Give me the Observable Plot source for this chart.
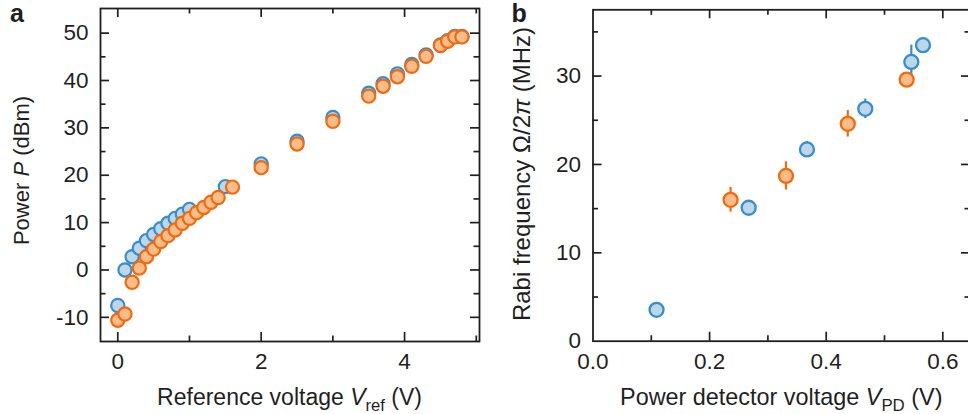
<!DOCTYPE html>
<html>
<head>
<meta charset="utf-8">
<script src="https://cdn.jsdelivr.net/npm/d3@7"></script>
<script src="https://cdn.jsdelivr.net/npm/@observablehq/plot@0.6"></script>
<style>
  html, body { margin: 0; padding: 0; background: #fff; overflow: hidden; }
  #figure { position: relative; width: 968px; height: 414px; overflow: hidden; background: #fff; }
  #figure svg { position: absolute; top: 0; }
</style>
</head>
<body>
<div id="figure"></div>
<script>
// ---- Panel a: output power vs. reference voltage (two channels) ----
const refVoltageBlue = [0, 0.1, 0.2, 0.3, 0.4, 0.5, 0.6, 0.7, 0.8, 0.9, 1.0, 1.5, 2.0, 2.5, 3.0, 3.5, 3.7, 3.9, 4.1, 4.3, 4.5, 4.6, 4.7, 4.8];
const powerBlue      = [-7.5, 0.0, 2.8, 4.6, 6.2, 7.5, 8.7, 9.85, 10.9, 11.8, 12.8, 17.6, 22.4, 27.2, 32.2, 37.3, 39.3, 41.4, 43.4, 45.4, 47.5, 48.4, 49.3, 49.3];

const refVoltageOrange = [0, 0.1, 0.2, 0.3, 0.4, 0.5, 0.6, 0.7, 0.8, 0.9, 1.0, 1.1, 1.2, 1.3, 1.4, 1.6, 2.0, 2.5, 3.0, 3.5, 3.7, 3.9, 4.1, 4.3, 4.5, 4.6, 4.7, 4.8];
const powerOrange      = [-10.6, -9.3, -2.6, 0.4, 2.8, 4.4, 6.0, 7.25, 8.45, 9.85, 10.9, 12.1, 13.2, 14.3, 15.3, 17.5, 21.6, 26.6, 31.4, 36.7, 38.8, 40.8, 43.0, 45.1, 47.4, 48.3, 49.2, 49.2];

// ---- Panel b: Rabi frequency vs. power detector voltage ----
const vpdBlue       = [0.109, 0.267, 0.367, 0.467, 0.546, 0.566];
const rabiBlue      = [3.55, 15.1, 21.7, 26.3, 31.6, 33.5];
const rabiErrBlue   = [0.3, 0.4, 0.9, 1.1, 1.9, 0.3];

const vpdOrange     = [0.236, 0.331, 0.437, 0.538];
const rabiOrange    = [16.0, 18.7, 24.6, 29.6];
const rabiErrOrange = [1.4, 1.6, 1.5, 0.5];

// ---- Tick positions ----
const aTicksX      = [0, 2, 4];
const aMinorTicksX = [1, 3, 5];
const aTicksY      = [-10, 0, 10, 20, 30, 40, 50];
const aMinorTicksY = [-5, 5, 15, 25, 35, 45];

const bTicksX      = [0.0, 0.2, 0.4, 0.6];
const bMinorTicksX = [0.1, 0.3, 0.5];
const bTicksY      = [0, 10, 20, 30];
const bMinorTicksY = [5, 15, 25, 35];

// ---- Styling ----
const font = '"Liberation Sans", Arial, Helvetica, sans-serif';
const ink = "#1f1f1f";
const blue   = {stroke: "#3a8dcc", fill: "#bcd7ea"};
const orange = {stroke: "#f26a10", fill: "#fdbd8b"};
const majorLen = 9, minorLen = 5.5;

const zip = (xs, ys, es) => xs.map((x, i) => ({x, y: ys[i], e: es ? es[i] : 0}));

// Inward-pointing ticks on all four sides of the frame
function frameTicks(xMajor, xMinor, yMajor, yMinor, fw, fh) {
  const st = {stroke: ink, strokeWidth: 1.7};
  const marks = [];
  for (const [vals, len] of [[xMajor, majorLen], [xMinor, minorLen]]) {
    marks.push(Plot.tickX(vals, {x: d => d, insetTop: fh - len, ...st}));
    marks.push(Plot.tickX(vals, {x: d => d, insetBottom: fh - len, ...st}));
  }
  for (const [vals, len] of [[yMajor, majorLen], [yMinor, minorLen]]) {
    marks.push(Plot.tickY(vals, {y: d => d, insetRight: fw - len, ...st}));
    marks.push(Plot.tickY(vals, {y: d => d, insetLeft: fw - len, ...st}));
  }
  return marks;
}

function addText(svg, {x, y, rotate = 0, size, weight = "normal", anchor = "middle", parts}) {
  const t = d3.select(svg).append("text")
    .attr("transform", `translate(${x},${y}) rotate(${rotate})`)
    .attr("text-anchor", anchor)
    .attr("font-family", font)
    .attr("font-size", size)
    .attr("font-weight", weight)
    .attr("fill", ink);
  let shifted = false;
  for (const p of parts) {
    const s = t.append("tspan").text(p.text);
    if (p.italic) s.attr("font-style", "italic");
    if (p.sub) { s.attr("font-size", size * 0.72).attr("dy", size * 0.24); shifted = true; }
    else if (shifted) { s.attr("dy", -size * 0.24); shifted = false; }
  }
}

const tickFont = 22.5;
const axisStyle = {fontFamily: font, fontSize: tickFont + "px", color: ink, background: "white", overflow: "visible"};

// ---- Panel a ----
const aW = 490, aH = 414, aM = {left: 100, right: 11, top: 8, bottom: 73};
const aFW = aW - aM.left - aM.right, aFH = aH - aM.top - aM.bottom;

const plotA = Plot.plot({
  width: aW, height: aH,
  marginLeft: aM.left, marginRight: aM.right, marginTop: aM.top, marginBottom: aM.bottom,
  style: axisStyle,
  x: {domain: [-0.241, 5.045]},
  y: {domain: [-15.1, 55.2]},
  marks: [
    Plot.axisX(aTicksX, {tickSize: 0, tickPadding: 12, tickFormat: d => String(d), fill: ink, label: null}),
    Plot.axisY(aTicksY, {tickSize: 0, tickPadding: 12, tickFormat: d => String(d), fill: ink, label: null}),
    ...frameTicks(aTicksX, aMinorTicksX, aTicksY, aMinorTicksY, aFW, aFH),
    Plot.dot(zip(refVoltageBlue, powerBlue), {x: "x", y: "y", r: 6.6, strokeWidth: 2.2, ...blue}),
    Plot.dot(zip(refVoltageOrange, powerOrange), {x: "x", y: "y", r: 6.6, strokeWidth: 2.2, ...orange}),
    Plot.frame({stroke: ink, strokeWidth: 1.8})
  ]
});
plotA.style.left = "0px";
document.getElementById("figure").appendChild(plotA);

addText(plotA, {x: 10, y: 21.7, size: 25, weight: "bold", anchor: "start", parts: [{text: "a"}]});
addText(plotA, {x: 29, y: 170.5, rotate: -90, size: 22, parts: [
  {text: "Power "}, {text: "P", italic: true}, {text: " (dBm)"}
]});
addText(plotA, {x: aM.left + aFW / 2, y: 405, size: 23, parts: [
  {text: "Reference voltage "}, {text: "V", italic: true}, {text: "ref", sub: true}, {text: " (V)"}
]});

// ---- Panel b ----
const bX = 490, bW = 482, bH = 414, bM = {left: 102.5, right: 2, top: 9.3, bottom: 73.3};
const bFW = bW - bM.left - bM.right, bFH = bH - bM.top - bM.bottom;

const blueB = zip(vpdBlue, rabiBlue, rabiErrBlue);
const orangeB = zip(vpdOrange, rabiOrange, rabiErrOrange);

const plotB = Plot.plot({
  width: bW, height: bH,
  marginLeft: bM.left, marginRight: bM.right, marginTop: bM.top, marginBottom: bM.bottom,
  style: axisStyle,
  x: {domain: [0, 0.6475]},
  y: {domain: [0, 37.5]},
  marks: [
    Plot.axisX(bTicksX, {tickSize: 0, tickPadding: 12, tickFormat: d3.format(".1f"), fill: ink, label: null}),
    Plot.axisY(bTicksY, {tickSize: 0, tickPadding: 12, tickFormat: d => String(d), fill: ink, label: null}),
    ...frameTicks(bTicksX.slice(1), bMinorTicksX, bTicksY.slice(1), bMinorTicksY, bFW, bFH),
    Plot.ruleX(blueB, {x: "x", y1: d => d.y - d.e, y2: d => d.y + d.e, stroke: blue.stroke, strokeWidth: 2.2}),
    Plot.dot(blueB, {x: "x", y: "y", r: 7, strokeWidth: 2.3, ...blue}),
    Plot.ruleX(orangeB, {x: "x", y1: d => d.y - d.e, y2: d => d.y + d.e, stroke: orange.stroke, strokeWidth: 2.2}),
    Plot.dot(orangeB, {x: "x", y: "y", r: 7, strokeWidth: 2.3, ...orange}),
    Plot.frame({stroke: ink, strokeWidth: 1.8})
  ]
});
plotB.style.left = bX + "px";
document.getElementById("figure").appendChild(plotB);

addText(plotB, {x: 21.5, y: 21.7, size: 25, weight: "bold", anchor: "start", parts: [{text: "b"}]});
addText(plotB, {x: 530 - bX, y: 174, rotate: -90, size: 24, parts: [
  {text: "Rabi frequency Ω/2"}, {text: "π", italic: true}, {text: " (MHz)"}
]});
addText(plotB, {x: bM.left + bFW / 2, y: 405, size: 23.4, parts: [
  {text: "Power detector voltage "}, {text: "V", italic: true}, {text: "PD", sub: true}, {text: " (V)"}
]});
</script>
</body>
</html>
